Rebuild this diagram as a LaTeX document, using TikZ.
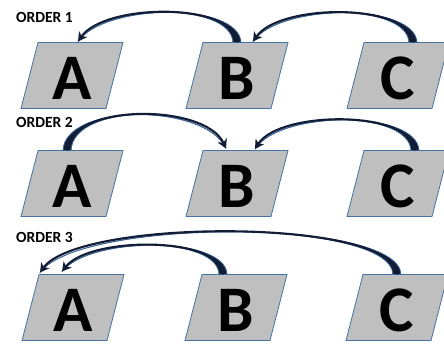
\documentclass[tikz,border=0pt]{standalone}
\usepackage{fontspec}
\setmainfont{Carlito}
\usetikzlibrary{calc,arrows.meta}
\definecolor{boxgray}{RGB}{191,191,191}
\definecolor{boxblue}{RGB}{70,114,160}
\definecolor{navy}{RGB}{18,28,52}
\definecolor{edgeblue}{RGB}{60,105,155}
\tikzset{
  boxstyle/.style={fill=boxgray, draw=boxblue, line width=0.8pt, line join=miter},
  letter/.style={inner sep=0pt, font=\fontsize{65}{65}\selectfont\bfseries},
  ordlabel/.style={anchor=west, inner sep=0pt, font=\fontsize{15.5}{16}\selectfont\bfseries},
  arrowbody/.style={fill=navy, draw=edgeblue, line width=0.8pt, line join=round},
  arrowtip/.style={draw=navy, line width=2.1pt, -{Stealth[length=9pt,width=10pt,inset=2.5pt]}},
}
\newcommand\pbox[4]{%
  \coordinate (#1) at (#2,#3);
  \coordinate (#1t) at ($(#1)+(0,-33)$);
  \draw[boxstyle] ($(#1)+(-51,33)$) -- ($(#1)+(34,33)$) -- ($(#1)+(51,-33)$) -- ($(#1)+(-34,-33)$) -- cycle;
  \node[letter] (#1l) at ($(#1)+(0,3)$) {#4};
}
\newcommand\taper[4]{%
  \filldraw[arrowbody] ($(#1)+(-4,0)$) .. controls ($(#2)+(-4,0)$) and (#3) .. (#4)
     .. controls (#3) and ($(#2)+(4,0)$) .. ($(#1)+(4,0)$) -- cycle;
  \draw[arrowtip] (#1) .. controls (#2) and (#3) .. (#4);
}
\begin{document}
\begin{tikzpicture}[x=1pt,y=-1pt]
\useasboundingbox (0,0) rectangle (444,343);
% labels
\node[ordlabel] (o1) at (16,17) {ORDER 1};
\node[ordlabel] (o2) at (16,122.5) {ORDER 2};
\node[ordlabel] (o3) at (16,237.5) {ORDER 3};
% boxes
\pbox{A1}{72}{75.5}{A}
\pbox{B1}{237}{75.5}{B}
\pbox{C1}{398}{75.5}{C}
\pbox{A2}{72}{183.5}{A}
\pbox{B2}{237}{183.5}{B}
\pbox{C2}{398}{183.5}{C}
\pbox{A3}{73}{307.5}{A}
\pbox{B3}{236}{307.5}{B}
\pbox{C3}{397}{307.5}{C}
% order 1
\coordinate (s1) at ($(B1t)+(0,0)$);
\coordinate (e1) at ($(A1t)+(6,-1)$);
\coordinate (p1) at (235,2);
\coordinate (q1) at (105,3);
\taper{s1}{p1}{q1}{e1}
\coordinate (s2) at ($(C1t)+(15,0)$);
\coordinate (e2) at ($(B1t)+(16,-1)$);
\coordinate (p2) at (411,3);
\coordinate (q2) at (280,3);
\taper{s2}{p2}{q2}{e2}
% order 2
\coordinate (s3) at ($(A2t)+(-5,0)$);
\coordinate (e3) at ($(B2t)+(-11,-2)$);
\coordinate (p3) at (69,103);
\coordinate (q3) at (205,103);
\taper{s3}{p3}{q3}{e3}
\coordinate (s4) at ($(C2t)+(17,0)$);
\coordinate (e4) at ($(B2t)+(18,-1.5)$);
\coordinate (p4) at (413,110);
\coordinate (q4) at (280,110);
\taper{s4}{p4}{q4}{e4}
% order 3
\coordinate (s5) at ($(B3t)+(-13,0)$);
\coordinate (e5) at ($(A3t)+(-11,-3)$);
\coordinate (p5) at (222,236);
\coordinate (q5) at (90,236);
\taper{s5}{p5}{q5}{e5}
\coordinate (s6) at ($(C3t)+(0,0)$);
\coordinate (e6) at ($(A3t)+(-33,-2)$);
\coordinate (p6) at (395,218);
\coordinate (q6) at (80,218);
\taper{s6}{p6}{q6}{e6}
\end{tikzpicture}
\end{document}
